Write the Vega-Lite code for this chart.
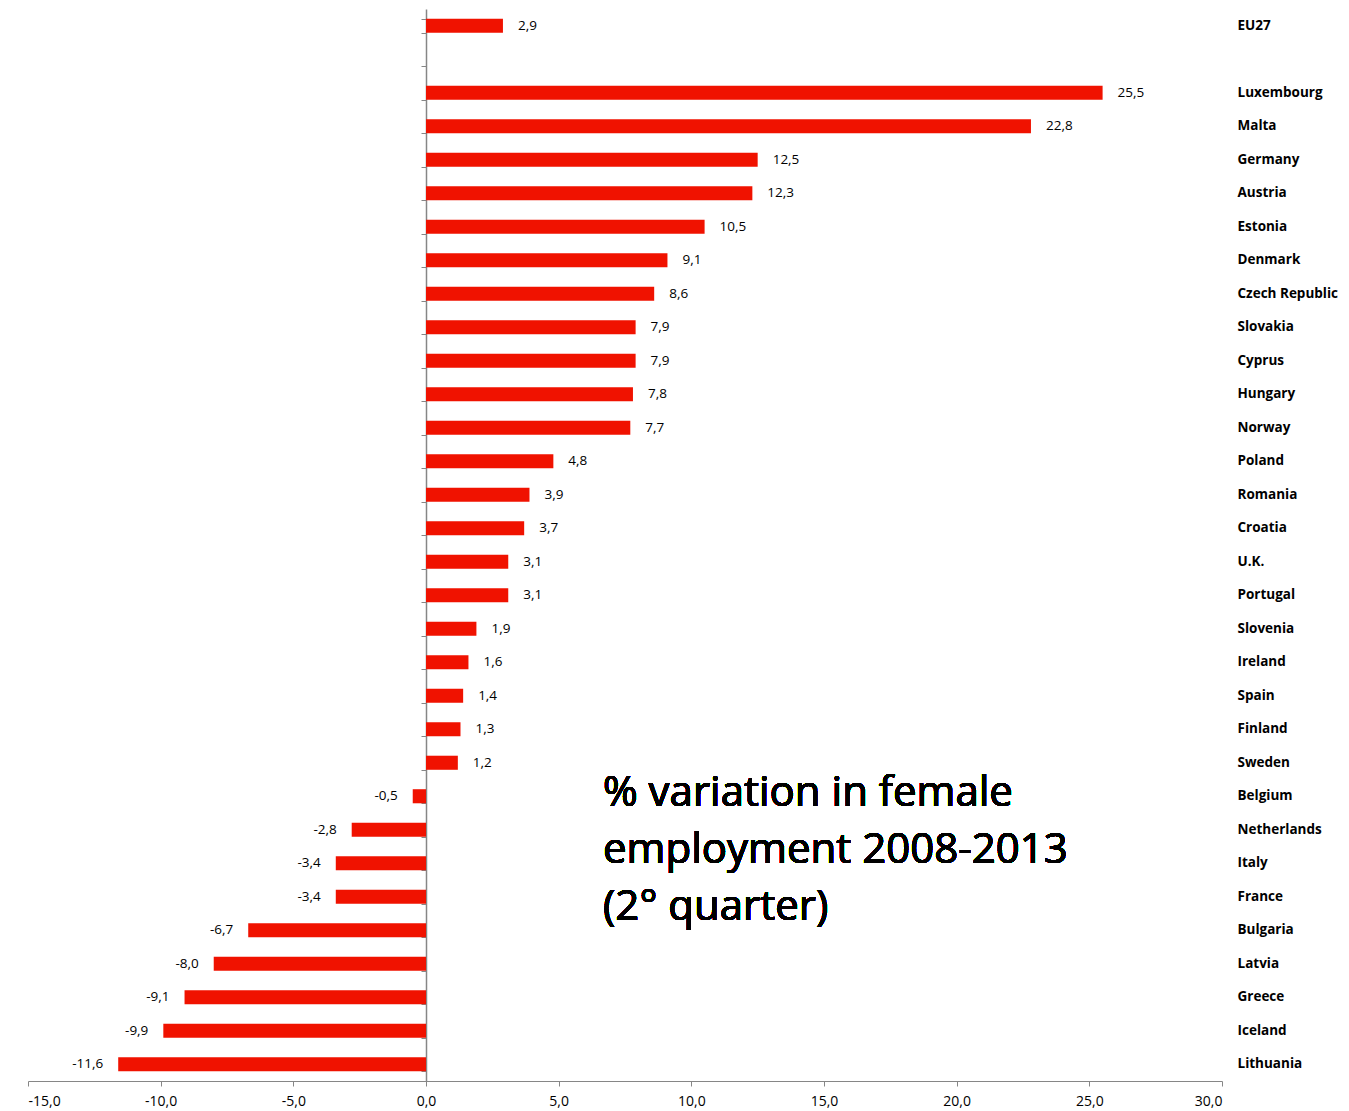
{
  "$schema": "https://vega.github.io/schema/vega-lite/v6.json",
  "width": 1194,
  "height": 1072,
  "autosize": {"type": "none"},
  "padding": {"left": 28, "top": 9, "right": 127, "bottom": 30},
  "background": "white",
  "config": {
    "view": {"stroke": null},
    "font": "Open Sans",
    "locale": {"number": {"decimal": ",", "thousands": ".", "grouping": [3], "currency": ["", " €"], "minus": "-"}}
  },
  "data": {
    "values": [
      {"country": "EU27", "value": 2.9},
      {"country": "Luxembourg", "value": 25.5},
      {"country": "Malta", "value": 22.8},
      {"country": "Germany", "value": 12.5},
      {"country": "Austria", "value": 12.3},
      {"country": "Estonia", "value": 10.5},
      {"country": "Denmark", "value": 9.1},
      {"country": "Czech Republic", "value": 8.6},
      {"country": "Slovakia", "value": 7.9},
      {"country": "Cyprus", "value": 7.9},
      {"country": "Hungary", "value": 7.8},
      {"country": "Norway", "value": 7.7},
      {"country": "Poland", "value": 4.8},
      {"country": "Romania", "value": 3.9},
      {"country": "Croatia", "value": 3.7},
      {"country": "U.K.", "value": 3.1},
      {"country": "Portugal", "value": 3.1},
      {"country": "Slovenia", "value": 1.9},
      {"country": "Ireland", "value": 1.6},
      {"country": "Spain", "value": 1.4},
      {"country": "Finland", "value": 1.3},
      {"country": "Sweden", "value": 1.2},
      {"country": "Belgium", "value": -0.5},
      {"country": "Netherlands", "value": -2.8},
      {"country": "Italy", "value": -3.4},
      {"country": "France", "value": -3.4},
      {"country": "Bulgaria", "value": -6.7},
      {"country": "Latvia", "value": -8.0},
      {"country": "Greece", "value": -9.1},
      {"country": "Iceland", "value": -9.9},
      {"country": "Lithuania", "value": -11.6}
    ]
  },
  "encoding": {
    "y": {
      "field": "country",
      "type": "nominal",
      "axis": null,
      "scale": {
        "domain": ["EU27", " ", "Luxembourg", "Malta", "Germany", "Austria", "Estonia", "Denmark", "Czech Republic", "Slovakia", "Cyprus", "Hungary", "Norway", "Poland", "Romania", "Croatia", "U.K.", "Portugal", "Slovenia", "Ireland", "Spain", "Finland", "Sweden", "Belgium", "Netherlands", "Italy", "France", "Bulgaria", "Latvia", "Greece", "Iceland", "Lithuania"],
        "paddingInner": 0.58,
        "paddingOuter": 0.29
      }
    }
  },
  "layer": [
    {
      "mark": {"type": "bar", "color": "#F01200"},
      "encoding": {
        "x": {
          "field": "value",
          "type": "quantitative",
          "scale": {"domain": [-15, 30], "nice": false, "zero": false},
          "axis": {
            "title": null,
            "values": [-15, -10, -5, 0, 5, 10, 15, 20, 25, 30],
            "format": ".1f",
            "grid": false,
            "domainColor": "#868686",
            "tickColor": "#868686",
            "tickSize": 5,
            "labelPadding": 8,
            "labelFontSize": 14,
            "labelColor": "#000000",
            "labelFont": "Open Sans"
          }
        },
        "y": {
          "field": "country",
          "type": "nominal",
          "axis": {
            "orient": "right",
            "title": null,
            "domain": false,
            "ticks": false,
            "labelAlign": "left",
            "labelPadding": 15,
            "labelFontSize": 13.5,
            "labelFontWeight": "bold",
            "labelColor": "#000000",
            "labelFont": "Open Sans"
          }
        }
      }
    },
    {
      "mark": {"type": "rule", "color": "#868686", "opacity": 0},
      "encoding": {
        "x": {"datum": 0, "type": "quantitative"},
        "y": {
          "field": "country",
          "type": "nominal",
          "axis": {
            "orient": "left",
            "offset": -398,
            "title": null,
            "labels": false,
            "tickBand": "extent",
            "tickSize": 5,
            "tickColor": "#868686",
            "domainColor": "#868686",
            "domainWidth": 1.5
          }
        }
      }
    },
    {
      "transform": [{"filter": "datum.value >= 0"}],
      "mark": {"type": "text", "align": "left", "baseline": "middle", "dx": 15, "fontSize": 13.5, "color": "#000000"},
      "encoding": {
        "x": {"field": "value", "type": "quantitative"},
        "text": {"field": "value", "type": "quantitative", "format": ".1f"}
      }
    },
    {
      "transform": [{"filter": "datum.value < 0"}],
      "mark": {"type": "text", "align": "right", "baseline": "middle", "dx": -15, "fontSize": 13.5, "color": "#000000"},
      "encoding": {
        "x": {"field": "value", "type": "quantitative"},
        "text": {"field": "value", "type": "quantitative", "format": ".1f"}
      }
    },
    {
      "mark": {"type": "text", "align": "left", "baseline": "alphabetic", "dy": 10, "fontSize": 42, "fontWeight": "normal", "lineHeight": 57, "color": "#000000", "font": "Open Sans"},
      "encoding": {
        "x": {"datum": 6.67, "type": "quantitative"},
        "y": {"datum": "Belgium", "type": "nominal", "axis": null},
        "text": {"value": ["% variation in female", "employment 2008-2013", "(2° quarter)"]}
      }
    }
  ],
  "resolve": {"axis": {"y": "independent"}}
}
